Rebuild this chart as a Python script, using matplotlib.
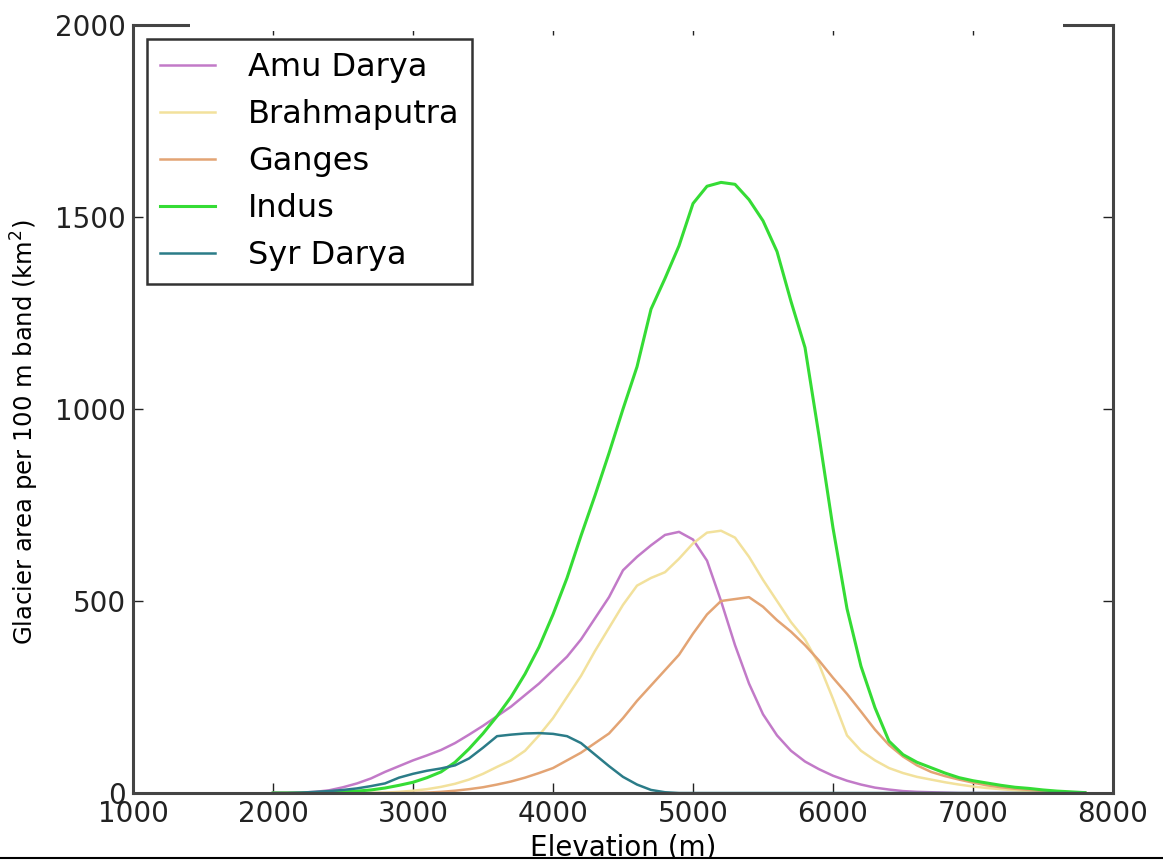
import matplotlib
matplotlib.use("Agg")
from matplotlib import pyplot as plt
from matplotlib.patches import Rectangle
from matplotlib.lines import Line2D

# elevation bands (m)
elevation = [2000, 2100, 2200, 2300, 2400, 2500, 2600, 2700, 2800, 2900,
             3000, 3100, 3200, 3300, 3400, 3500, 3600, 3700, 3800, 3900,
             4000, 4100, 4200, 4300, 4400, 4500, 4600, 4700, 4800, 4900,
             5000, 5100, 5200, 5300, 5400, 5500, 5600, 5700, 5800, 5900,
             6000, 6100, 6200, 6300, 6400, 6500, 6600, 6700, 6800, 6900,
             7000, 7100, 7200, 7300, 7400, 7500, 7600, 7700, 7800]

amu_darya = [0, 0, 1, 3, 7, 15, 25, 38, 55, 70,
             85, 98, 112, 130, 152, 175, 200, 225, 255, 285,
             320, 355, 400, 455, 510, 580, 615, 645, 672, 680,
             660, 605, 500, 385, 285, 205, 150, 110, 82, 62,
             45, 32, 22, 14, 9, 5, 3, 2, 1, 0,
             0, 0, 0, 0, 0, 0, 0, 0, 0]

brahmaputra = [0, 0, 0, 0, 0, 0, 0, 0, 1, 3,
               6, 10, 16, 24, 35, 50, 68, 85, 110, 150,
               195, 250, 305, 370, 430, 490, 540, 560, 575, 610,
               650, 678, 683, 665, 615, 555, 500, 445, 400, 335,
               245, 150, 110, 85, 65, 52, 42, 35, 28, 22,
               17, 13, 10, 7, 5, 3, 2, 1, 0]

ganges = [0, 0, 0, 0, 0, 0, 0, 0, 0, 0,
          0, 1, 3, 6, 10, 15, 22, 30, 40, 52,
          65, 85, 105, 130, 155, 195, 240, 280, 320, 360,
          415, 465, 500, 505, 510, 485, 450, 420, 385, 345,
          300, 258, 212, 165, 125, 95, 72, 55, 44, 35,
          27, 20, 15, 11, 8, 5, 3, 2, 1]

indus = [0, 0, 0, 1, 2, 3, 5, 8, 13, 20,
         28, 40, 55, 80, 115, 155, 200, 250, 310, 380,
         465, 560, 670, 775, 885, 1000, 1110, 1260, 1340, 1425,
         1535, 1580, 1590, 1585, 1545, 1490, 1410, 1280, 1160, 930,
         690, 480, 330, 222, 135, 100, 80, 66, 52, 40,
         32, 26, 20, 15, 12, 8, 5, 3, 1]

syr_darya = [0, 0, 1, 3, 5, 8, 12, 18, 25, 40,
             50, 58, 64, 72, 90, 118, 148, 152, 155, 156,
             154, 148, 130, 100, 70, 42, 22, 8, 2, 0,
             0, 0, 0, 0, 0, 0, 0, 0, 0, 0,
             0, 0, 0, 0, 0, 0, 0, 0, 0, 0,
             0, 0, 0, 0, 0, 0, 0, 0, 0]

basins = ["Amu Darya", "Brahmaputra", "Ganges", "Indus", "Syr Darya"]
series = [amu_darya, brahmaputra, ganges, indus, syr_darya]
colors = ["#c27ac8", "#f2e19c", "#e3a474", "#35dc35", "#2b7c88"]
widths = [1.8, 1.8, 1.8, 2.2, 1.8]

fig = plt.figure(figsize=(11.63, 8.63), dpi=100)
ax = fig.add_axes([0.1144, 0.0811, 0.8426, 0.8900])

for name, vals, c, w in zip(basins, series, colors, widths):
    ax.plot(elevation, vals, color=c, lw=w, label=name)

ax.set_xlim(1000, 8000)
ax.set_ylim(0, 2000)
ax.set_xticks([1000, 2000, 3000, 4000, 5000, 6000, 7000, 8000])
ax.set_yticks([0, 500, 1000, 1500, 2000])
ax.tick_params(direction="in", top=True, right=True, length=7, width=1,
               labelsize=20, pad=5, colors="#222222")
for s in ax.spines.values():
    s.set_linewidth(2.2)
    s.set_color("#444444")

ax.set_xlabel("Elevation (m)", fontsize=20, labelpad=4)
ax.set_ylabel(r"Glacier area per 100 m band (km$^2$)", fontsize=17.5)
ax.yaxis.set_label_coords(-0.094, 0.47)

leg = ax.legend(loc="upper left", fontsize=23, fancybox=False, handlelength=1.7,
                handletextpad=1.05, labelspacing=0.5, borderaxespad=0.45,
                borderpad=0.4)
leg.get_frame().set_edgecolor("black")
leg.get_frame().set_linewidth(1.8)

# white strip over top spine and line at bottom, as in the scanned figure
fig.add_artist(Rectangle((190 / 1163, 1 - 31 / 863), 873 / 1163, 31 / 863,
                         transform=fig.transFigure, facecolor="white",
                         edgecolor="none", zorder=10))
fig.add_artist(Rectangle((0, 0), 1, 5 / 863, transform=fig.transFigure,
                         facecolor="white", edgecolor="none", zorder=10))
fig.add_artist(Line2D([0, 1], [5 / 863, 5 / 863], transform=fig.transFigure,
                      color="black", lw=1.5, zorder=11))

fig.savefig("out.png", dpi=100)
